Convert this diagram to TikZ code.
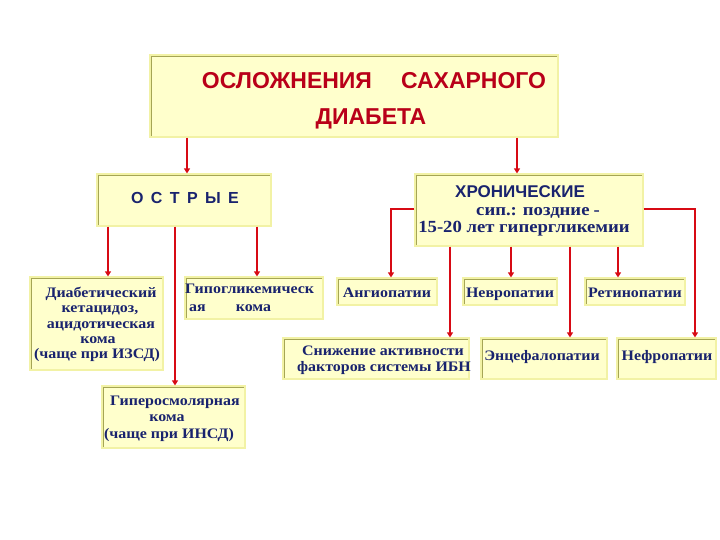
\documentclass[tikz,border=0pt]{standalone}
\usepackage{fontspec}
\setmainfont{Liberation Serif}
\newfontfamily\arialf{Liberation Sans}
\newfontfamily\serifw{Liberation Serif}[FakeStretch=1.1]
\usetikzlibrary{arrows.meta}
\definecolor{boxfill}{RGB}{255,255,204}
\definecolor{boxedge}{RGB}{242,242,165}
\definecolor{bevel}{RGB}{165,165,85}
\definecolor{navy}{RGB}{25,35,110}
\definecolor{arrred}{RGB}{215,10,20}
\definecolor{titlered}{RGB}{185,0,25}
\newcommand{\mkbox}[5]{\node[box, minimum width={(#4)-(#2)}, minimum height={(#5)-(#3)}] (#1) at ({((#2)+(#4))/2},{((#3)+(#5))/2}) {};}
\tikzset{
 box/.style={fill=boxfill, draw=boxedge, line width=1.2pt, inner sep=0pt,
   path picture={\draw[bevel, line width=3.5pt] (path picture bounding box.south west) -- (path picture bounding box.north west) -- (path picture bounding box.north east);}},
 arr/.style={draw=arrred, line width=1.8pt, -{Triangle[width=6pt,length=5pt]}},
 lbl/.style={text=navy, font=\serifw\bfseries\fontsize{14.5}{15.5}\selectfont, inner sep=0pt, anchor=base},
 lblw/.style={lbl, anchor=base west},
 ttl/.style={text=titlered, font=\arialf\bfseries\fontsize{23}{28}\selectfont, inner sep=0pt, anchor=base},
 sanslbl/.style={text=navy, font=\arialf\bfseries\fontsize{16}{18}\selectfont, inner sep=0pt, anchor=base},
 biglbl/.style={text=navy, font=\serifw\bfseries\fontsize{17}{18}\selectfont, inner sep=0pt, anchor=base},
}
\begin{document}
\begin{tikzpicture}[x=1pt,y=-1pt]
\useasboundingbox (0,0) rectangle (720,540);
% boxes
\mkbox{title}{150}{55}{558}{137}
\mkbox{ostr}{97}{174}{271}{226}
\mkbox{chron}{415}{174}{643}{246}
\mkbox{diab}{30}{277}{163}{370}
\mkbox{hypo}{185}{277}{323}{319}
\mkbox{hyper}{102}{386}{245}{448}
\mkbox{angio}{337}{278}{437}{305}
\mkbox{nevro}{463}{278}{557}{305}
\mkbox{retino}{585}{278}{685}{305}
\mkbox{snizh}{283}{338}{469}{379}
\mkbox{encef}{481}{338}{607}{379}
\mkbox{nefro}{617}{338}{716}{379}
% texts
\node[ttl] (tl1) at (374,89) {ОСЛОЖНЕНИЯ\hspace{29pt}САХАРНОГО};
\node[ttl] (tl2) at (371,125) {ДИАБЕТА};
\node[sanslbl] (os) at (185,204) {О\hspace{7.4pt}С\hspace{7.4pt}Т\hspace{7.4pt}Р\hspace{7.4pt}Ы\hspace{7.4pt}Е};
\node[sanslbl, font=\arialf\bfseries\fontsize{17}{18}\selectfont] (ch1) at (520,197) {ХРОНИЧЕСКИЕ};
\node[biglbl] (ch2) at (538,215) {сип.:\hspace{6pt}поздние\hspace{4pt}-};
\node[biglbl] (ch3) at (524,233) {15-20 лет гипергликемии};
\node[lbl] (d1) at (101,297) {Диабетический};
\node[lbl] (d2) at (100,312.5) {кетацидоз,};
\node[lbl] (d3) at (101,328) {ацидотическая};
\node[lbl] (d4) at (98,343) {кома};
\node[lbl] (d5) at (97,358) {(чаще при ИЗСД)};
\node[lblw] (h1) at (185,293) {Гипогликемическ};
\node[lblw] (h2) at (189,311) {ая\hspace{30pt}кома};
\node[lbl] (g1) at (175,405) {Гиперосмолярная};
\node[lbl] (g2) at (167,421) {кома};
\node[lbl] (g3) at (169,438) {(чаще при ИНСД)};
\node[lbl] (a1) at (387,297) {Ангиопатии};
\node[lbl] (n1) at (510,297) {Невропатии};
\node[lbl] (r1) at (635,297) {Ретинопатии};
\node[lbl] (s1) at (383,355) {Снижение активности};
\node[lbl] (s2) at (384,371) {факторов системы ИБН};
\node[lbl] (e1) at (542,360) {Энцефалопатии};
\node[lbl] (f1) at (667,360) {Нефропатии};
% connectors
\draw[arr] (title.south -| 187,0) -- (ostr.north -| 187,0);
\draw[arr] (title.south -| 517,0) -- (chron.north -| 517,0);
\draw[arr] (ostr.south -| 108,0) -- (diab.north -| 108,0);
\draw[arr] (ostr.south -| 175,0) -- (hyper.north -| 175,0);
\draw[arr] (ostr.south -| 257,0) -- (hypo.north -| 257,0);
\draw[arr] (chron.west |- 0,209) -| (angio.north -| 391,0);
\draw[arr] (chron.south -| 450,0) -- (snizh.north -| 450,0);
\draw[arr] (chron.south -| 511,0) -- (nevro.north -| 511,0);
\draw[arr] (chron.south -| 570,0) -- (encef.north -| 570,0);
\draw[arr] (chron.south -| 618,0) -- (retino.north -| 618,0);
\draw[arr] (chron.east |- 0,209) -| (nefro.north -| 695,0);
\end{tikzpicture}
\end{document}
